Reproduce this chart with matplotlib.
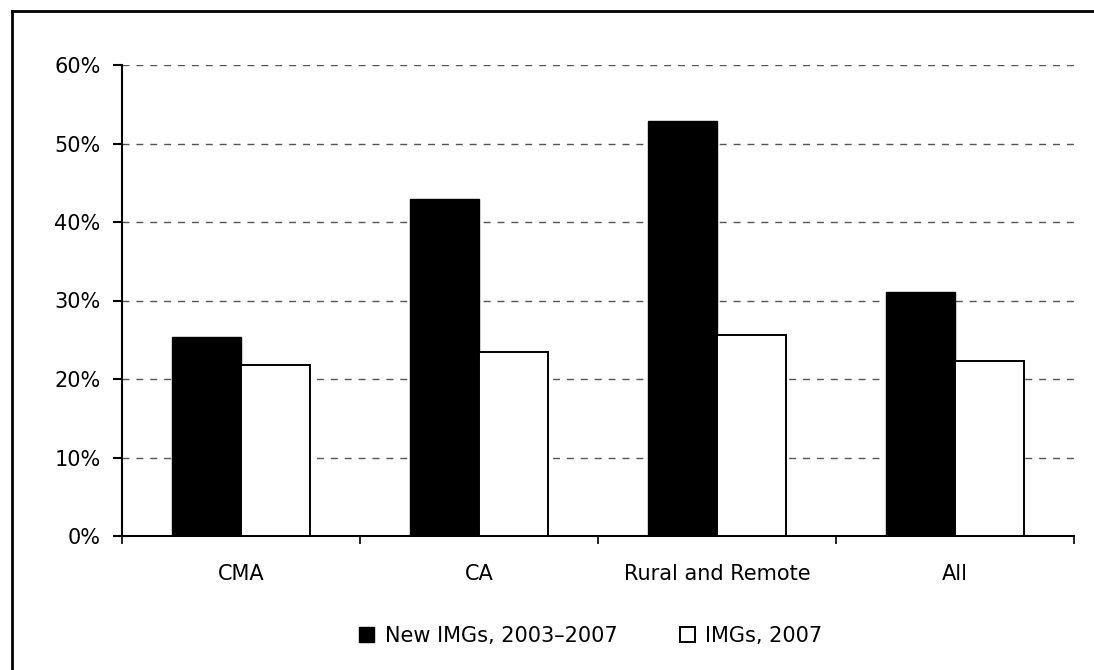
import matplotlib
matplotlib.use("Agg")
import matplotlib.pyplot as plt
import numpy as np
from matplotlib.patches import Patch
from matplotlib.lines import Line2D
from matplotlib.ticker import FuncFormatter, FixedLocator

categories = ["CMA", "CA", "Rural and Remote", "All"]
new_imgs = [25.4, 42.9, 52.9, 31.1]
imgs_2007 = [21.8, 23.5, 25.6, 22.3]
series_labels = ["New IMGs, 2003\u20132007", "IMGs, 2007"]
yticks = [0, 10, 20, 30, 40, 50, 60]

plt.rcParams['font.family'] = ['DejaVu Sans']

fig = plt.figure(figsize=(10.94, 6.70), dpi=100)
ax = fig.add_axes([122/1094, 1-536/670, (1074-122)/1094, (536-65)/670])

x = np.arange(len(categories))
w = 0.29
ax.bar(x - w/2, new_imgs, width=w, color="black", edgecolor="black", linewidth=1, zorder=3)
ax.bar(x + w/2, imgs_2007, width=w, color="white", edgecolor="black", linewidth=1.4, zorder=3)

ax.set_xlim(-0.5, len(categories) - 0.5)
ax.set_ylim(0, 60)
ax.set_yticks(yticks)
ax.yaxis.set_major_formatter(FuncFormatter(lambda v, p: f"{int(v)}%"))
ax.set_xticks(x)
ax.set_xticklabels(categories)
ax.xaxis.set_minor_locator(FixedLocator(np.arange(-0.5, len(categories), 1.0)))
ax.tick_params(axis='x', which='major', length=0, pad=20, labelsize=15)
ax.tick_params(axis='x', which='minor', length=6, width=1.2, direction='out')
ax.tick_params(axis='y', length=6.5, width=1.5, pad=9, labelsize=15)

for s in ['top', 'right']:
    ax.spines[s].set_visible(False)
ax.spines['left'].set_linewidth(1.5)
ax.spines['bottom'].set_linewidth(1.5)

ax.yaxis.grid(True, linestyle=(0, (5, 5)), color="#555555", linewidth=1, zorder=0)
ax.set_axisbelow(True)

handles = [Patch(facecolor="black", edgecolor="black"),
           Patch(facecolor="white", edgecolor="black", linewidth=1.4)]
fig.legend(handles, series_labels, loc="center", bbox_to_anchor=(591/1094, 1-636/670),
           ncol=2, frameon=False, fontsize=15, handlelength=0.72, handleheight=0.72,
           handletextpad=0.5, columnspacing=3.0, borderpad=0.2)

# outer frame (top and left visible)
fig.add_artist(Line2D([12/1094, 1.01], [1-11/670, 1-11/670], color="black", linewidth=2, transform=fig.transFigure))
fig.add_artist(Line2D([12/1094, 12/1094], [1-11/670, -0.01], color="black", linewidth=2, transform=fig.transFigure))

fig.savefig("out.png", dpi=100)
